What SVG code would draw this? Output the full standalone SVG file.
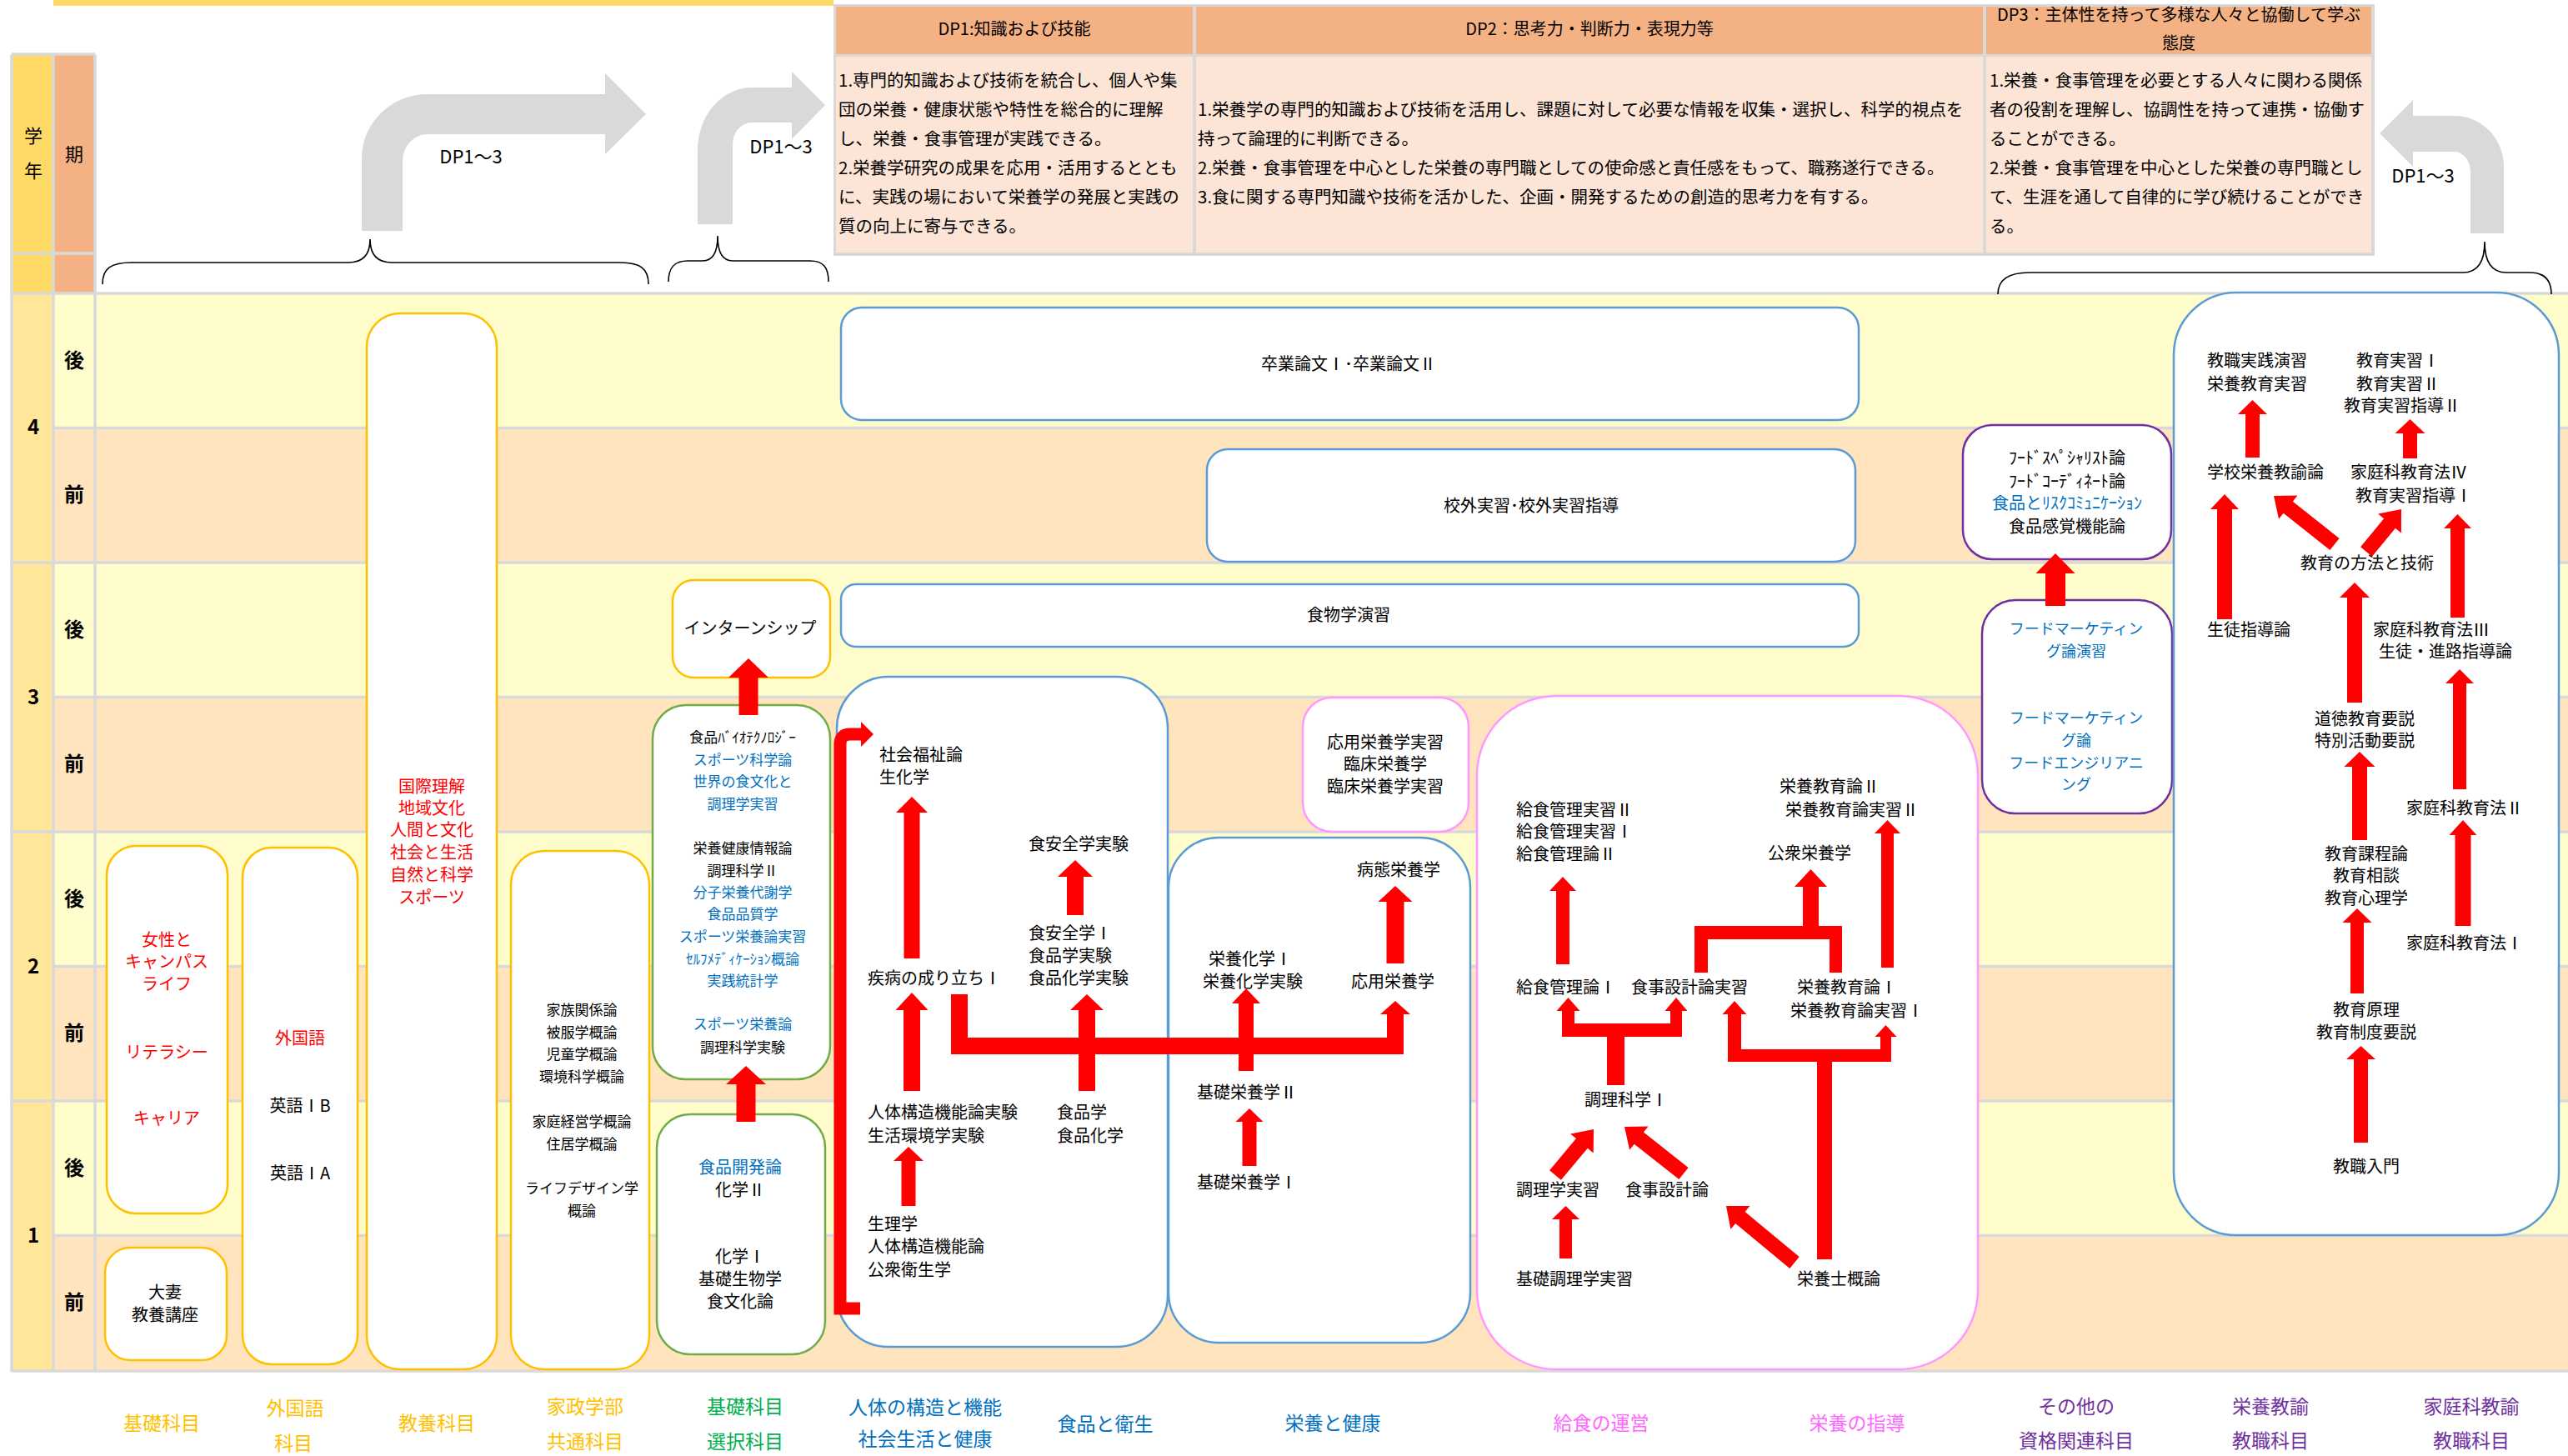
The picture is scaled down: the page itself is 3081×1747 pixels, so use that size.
<svg xmlns="http://www.w3.org/2000/svg" width="3081" height="1747" viewBox="0 0 3081 1747">
<style>
text{font-family:'Noto Sans CJK JP','Noto Sans CJK SC','Liberation Sans',sans-serif;fill:#000;font-size:20px}
.c{text-anchor:middle}
.red{fill:#FF0000}
.blu{fill:#0070C0}
.n17{font-size:17px}
.n18{font-size:18px}
.dp{font-size:20.5px}
.b{font-weight:bold;font-size:24px}
.ar{fill:#FF0000}
.bx{fill:#fff;stroke-width:2.5}
.by{stroke:#FFC000}
.bg{stroke:#70AD47}
.bb{stroke:#5B9BD5}
.bp{stroke:#FF99FF}
.bv{stroke:#7030A0}
.gl{stroke:#D9D9D9;stroke-width:3.5;fill:none}
.garr{fill:#D9D9D9}
.brace{fill:none;stroke:#000;stroke-width:1.6}
.lbl{font-size:23px;text-anchor:middle}
.ly{fill:#FFC000}.lg{fill:#00B050}.lb{fill:#0070C0}.lp{fill:#FF66FF}.lv{fill:#7030A0}
.yr{fill:#FFFDCB}.pr{fill:#FFE4BE}
</style>
<rect x="0" y="0" width="3081" height="1747" fill="#fff"/>

<!-- table background -->
<g id="table">
<rect x="64" y="0" width="936" height="7" fill="#FFD966"/>
<rect x="14" y="65" width="50" height="287" fill="#FFD966"/>
<rect x="64" y="65" width="50" height="287" fill="#F4B183"/>
<rect x="64" y="352" width="3017" height="161.5" class="yr"/>
<rect x="64" y="513.5" width="3017" height="161.5" class="pr"/>
<rect x="64" y="675" width="3017" height="161.5" class="yr"/>
<rect x="64" y="836.5" width="3017" height="161.5" class="pr"/>
<rect x="64" y="998" width="3017" height="161.5" class="yr"/>
<rect x="64" y="1159.5" width="3017" height="161.5" class="pr"/>
<rect x="64" y="1321" width="3017" height="161.5" class="yr"/>
<rect x="64" y="1482.5" width="3017" height="161.5" class="pr"/>
<rect x="14" y="352" width="50" height="1292" fill="#FFE699"/>
<path class="gl" d="M14 65H114M14 304H114M14 352H3081M64 513.5H3081M14 675H3081M64 836.5H3081M14 998H3081M64 1159.5H3081M14 1321H3081M64 1482.5H3081M14 1645H3081M14 65V1646M64 65V1646M114 65V1646"/>
<text x="40" y="171" class="c" style="font-size:22px">学</text>
<text x="40" y="213" class="c" style="font-size:22px">年</text>
<text x="89" y="193" class="c" style="font-size:22px">期</text>
<text x="40" y="521" class="c b">4</text>
<text x="40" y="845" class="c b">3</text>
<text x="40" y="1168" class="c b">2</text>
<text x="40" y="1491" class="c b">1</text>
<text x="89" y="441" class="c b">後</text>
<text x="89" y="602" class="c b">前</text>
<text x="89" y="764" class="c b">後</text>
<text x="89" y="925" class="c b">前</text>
<text x="89" y="1087" class="c b">後</text>
<text x="89" y="1248" class="c b">前</text>
<text x="89" y="1410" class="c b">後</text>
<text x="89" y="1571" class="c b">前</text>
</g>

<!-- DP table -->
<g id="dp-table">
<rect x="1000" y="5" width="1849" height="302" fill="#D9D9D9"/>
<rect x="1003" y="8" width="428" height="57" fill="#F4B183"/>
<rect x="1435" y="8" width="944" height="57" fill="#F4B183"/>
<rect x="2383" y="8" width="462" height="57" fill="#F4B183"/>
<rect x="1003" y="68" width="428" height="235" fill="#FCE4D6"/>
<rect x="1435" y="68" width="944" height="235" fill="#FCE4D6"/>
<rect x="2383" y="68" width="462" height="235" fill="#FCE4D6"/>
<text x="1217" y="42" class="c">DP1:知識および技能</text>
<text x="1907" y="42" class="c">DP2：思考力・判断力・表現力等</text>
<text x="2614" y="25" class="c">DP3：主体性を持って多様な人々と協働して学ぶ</text>
<text x="2614" y="59" class="c">態度</text>
<g class="dp">
<text x="1006" y="104" class="dp">1.専門的知識および技術を統合し、個人や集</text>
<text x="1006" y="139" class="dp">団の栄養・健康状態や特性を総合的に理解</text>
<text x="1006" y="174" class="dp">し、栄養・食事管理が実践できる。</text>
<text x="1006" y="209" class="dp">2.栄養学研究の成果を応用・活用するととも</text>
<text x="1006" y="244" class="dp">に、実践の場において栄養学の発展と実践の</text>
<text x="1006" y="279" class="dp">質の向上に寄与できる。</text>
<text x="1437" y="139" class="dp">1.栄養学の専門的知識および技術を活用し、課題に対して必要な情報を収集・選択し、科学的視点を</text>
<text x="1437" y="174" class="dp">持って論理的に判断できる。</text>
<text x="1437" y="209" class="dp">2.栄養・食事管理を中心とした栄養の専門職としての使命感と責任感をもって、職務遂行できる。</text>
<text x="1437" y="244" class="dp">3.食に関する専門知識や技術を活かした、企画・開発するための創造的思考力を有する。</text>
<text x="2387" y="104" class="dp">1.栄養・食事管理を必要とする人々に関わる関係</text>
<text x="2387" y="139" class="dp">者の役割を理解し、協調性を持って連携・協働す</text>
<text x="2387" y="174" class="dp">ることができる。</text>
<text x="2387" y="209" class="dp">2.栄養・食事管理を中心とした栄養の専門職とし</text>
<text x="2387" y="244" class="dp">て、生涯を通して自律的に学び続けることができ</text>
<text x="2387" y="279" class="dp">る。</text>
</g>
</g>

<!-- DP arrows and braces -->
<g id="dp-arrows">
<path class="garr" d="M434 277V190A79 77 0 0 1 513 113H726V88L775 137L726 185V161H513A30 32 0 0 0 483 193V277Z"/>
<path class="garr" d="M837 269V180A65 75 0 0 1 902 105H950V86L990 126L950 167V147H902A23 26 0 0 0 879 173V269Z"/>
<path class="garr" d="M3004 280V200A59 61 0 0 0 2945 139H2895V120L2855 160L2895 200V182H2945A19 25 0 0 1 2964 207V280Z"/>
<text x="565" y="196" class="c" style="font-size:22px">DP1～3</text>
<text x="937" y="184" class="c" style="font-size:22px">DP1～3</text>
<text x="2907" y="219" class="c" style="font-size:22px">DP1～3</text>
<path class="brace" d="M123 341C123 322 133 315 158 315H418C436 315 444 305 444 287C444 305 452 315 470 315H743C768 315 778 322 778 341"/>
<path class="brace" d="M802 338C802 320 810 313 825 313H843C855 313 861 302 861 283C861 302 867 313 879 313H972C987 313 994 320 994 338"/>
<path class="brace" d="M2397 353C2397 335 2410 327 2435 327H2955C2972 327 2981 315 2981 290C2981 315 2990 327 3007 327H3035C3052 327 3061 335 3061 353"/>
</g>

<!-- left nodes -->
<g id="kyoyo">
<rect x="440" y="376" width="156" height="1267" rx="40" class="bx by"/>
<text x="518" y="951" class="c red">国際理解</text>
<text x="518" y="977" class="c red">地域文化</text>
<text x="518" y="1003" class="c red">人間と文化</text>
<text x="518" y="1030" class="c red">社会と生活</text>
<text x="518" y="1057" class="c red">自然と科学</text>
<text x="518" y="1084" class="c red">スポーツ</text>
</g>
<g id="kiso1">
<rect x="128" y="1015" width="145" height="441" rx="35" class="bx by"/>
<text x="200" y="1135" class="c red">女性と</text>
<text x="200" y="1161" class="c red">キャンパス</text>
<text x="200" y="1188" class="c red">ライフ</text>
<text x="200" y="1270" class="c red">リテラシー</text>
<text x="200" y="1349" class="c red">キャリア</text>
</g>
<g id="otsuma">
<rect x="126" y="1497" width="146" height="135" rx="30" class="bx by"/>
<text x="198" y="1558" class="c">大妻</text>
<text x="198" y="1585" class="c">教養講座</text>
</g>
<g id="gaikokugo">
<rect x="291" y="1017" width="138" height="620" rx="35" class="bx by"/>
<text x="360" y="1253" class="c red">外国語</text>
<text x="360" y="1334" class="c">英語ⅠB</text>
<text x="360" y="1415" class="c">英語ⅠA</text>
</g>
<g id="kasei">
<rect x="613" y="1021" width="166" height="622" rx="40" class="bx by"/>
<text x="698" y="1218" class="c n17">家族関係論</text>
<text x="698" y="1245" class="c n17">被服学概論</text>
<text x="698" y="1271" class="c n17">児童学概論</text>
<text x="698" y="1298" class="c n17">環境科学概論</text>
<text x="698" y="1352" class="c n17">家庭経営学概論</text>
<text x="698" y="1379" class="c n17">住居学概論</text>
<text x="698" y="1432" class="c n17">ライフデザイン学</text>
<text x="698" y="1459" class="c n17">概論</text>
</g>
<g id="sentaku-upper">
<rect x="783" y="846" width="213" height="449" rx="40" class="bx bg"/>
<text x="891" y="891" class="c n17">食品ﾊﾞｲｵﾃｸﾉﾛｼﾞｰ</text>
<text x="891" y="918" class="c n17 blu">スポーツ科学論</text>
<text x="891" y="944" class="c n17 blu">世界の食文化と</text>
<text x="891" y="971" class="c n17 blu">調理学実習</text>
<text x="891" y="1024" class="c n17">栄養健康情報論</text>
<text x="891" y="1051" class="c n17">調理科学Ⅱ</text>
<text x="891" y="1077" class="c n17 blu">分子栄養代謝学</text>
<text x="891" y="1103" class="c n17 blu">食品品質学</text>
<text x="891" y="1130" class="c n17 blu">スポーツ栄養論実習</text>
<text x="891" y="1157" class="c n17 blu">ｾﾙﾌﾒﾃﾞｨｹｰｼｮﾝ概論</text>
<text x="891" y="1183" class="c n17 blu">実践統計学</text>
<text x="891" y="1235" class="c n17 blu">スポーツ栄養論</text>
<text x="891" y="1263" class="c n17">調理科学実験</text>
</g>
<g id="sentaku-lower">
<rect x="788" y="1337" width="202" height="288" rx="40" class="bx bg"/>
<text x="888" y="1408" class="c blu">食品開発論</text>
<text x="888" y="1435" class="c">化学Ⅱ</text>
<text x="888" y="1515" class="c">化学Ⅰ</text>
<text x="888" y="1542" class="c">基礎生物学</text>
<text x="888" y="1569" class="c">食文化論</text>
</g>
<g id="internship">
<rect x="807" y="696" width="189" height="117" rx="25" class="bx by"/>
<text x="900" y="761" class="c">インターンシップ</text>
</g>
<g id="sotsuron">
<rect x="1009" y="369" width="1221" height="135" rx="25" class="bx bb"/>
<text x="1618" y="444" class="c">卒業論文Ⅰ･卒業論文Ⅱ</text>
</g>
<g id="kougai">
<rect x="1448" y="539" width="778" height="135" rx="25" class="bx bb"/>
<text x="1837" y="614" class="c">校外実習･校外実習指導</text>
</g>
<g id="shokumotsu">
<rect x="1009" y="701" width="1221" height="75" rx="18" class="bx bb"/>
<text x="1618" y="745" class="c">食物学演習</text>
</g>
<g id="jintai">
<rect x="1004" y="812" width="397" height="804" rx="62" class="bx bb"/>
<text x="1055" y="913">社会福祉論</text>
<text x="1055" y="940">生化学</text>
<text x="1041" y="1181">疾病の成り立ちⅠ</text>
<text x="1041" y="1342">人体構造機能論実験</text>
<text x="1041" y="1370">生活環境学実験</text>
<text x="1041" y="1476">生理学</text>
<text x="1041" y="1503">人体構造機能論</text>
<text x="1041" y="1531">公衆衛生学</text>
<text x="1234" y="1020">食安全学実験</text>
<text x="1234" y="1127">食安全学Ⅰ</text>
<text x="1234" y="1154">食品学実験</text>
<text x="1234" y="1181">食品化学実験</text>
<text x="1268" y="1342">食品学</text>
<text x="1268" y="1370">食品化学</text>
</g>
<g id="eiyou">
<rect x="1402" y="1005" width="362" height="606" rx="60" class="bx bb"/>
<text x="1628" y="1051">病態栄養学</text>
<text x="1450" y="1158">栄養化学Ⅰ</text>
<text x="1443" y="1185">栄養化学実験</text>
<text x="1621" y="1185">応用栄養学</text>
<text x="1436" y="1318">基礎栄養学Ⅱ</text>
<text x="1436" y="1426">基礎栄養学Ⅰ</text>
</g>
<g id="ouyou">
<rect x="1563" y="837" width="199" height="161" rx="35" class="bx bp"/>
<text x="1662" y="898" class="c">応用栄養学実習</text>
<text x="1662" y="924" class="c">臨床栄養学</text>
<text x="1662" y="951" class="c">臨床栄養学実習</text>
</g>
<g id="kyushoku">
<rect x="1772" y="835" width="601" height="808" rx="95" class="bx bp"/>
<text x="1819" y="979">給食管理実習Ⅱ</text>
<text x="1819" y="1005">給食管理実習Ⅰ</text>
<text x="1819" y="1032">給食管理論Ⅱ</text>
<text x="2135" y="951">栄養教育論Ⅱ</text>
<text x="2142" y="979">栄養教育論実習Ⅱ</text>
<text x="2121" y="1031">公衆栄養学</text>
<text x="1819" y="1192">給食管理論Ⅰ</text>
<text x="1957" y="1192">食事設計論実習</text>
<text x="2156" y="1192">栄養教育論Ⅰ</text>
<text x="2148" y="1220">栄養教育論実習Ⅰ</text>
<text x="1901" y="1327">調理科学Ⅰ</text>
<text x="1819" y="1435">調理学実習</text>
<text x="1950" y="1435">食事設計論</text>
<text x="1819" y="1542">基礎調理学実習</text>
<text x="2156" y="1542">栄養士概論</text>
</g>
<g id="shikaku-upper">
<rect x="2355" y="510" width="250" height="161" rx="35" class="bx bv"/>
<text x="2480" y="557" class="c">ﾌｰﾄﾞｽﾍﾟｼｬﾘｽﾄ論</text>
<text x="2480" y="585" class="c">ﾌｰﾄﾞｺｰﾃﾞｨﾈｰﾄ論</text>
<text x="2480" y="611" class="c blu">食品とﾘｽｸｺﾐｭﾆｹｰｼｮﾝ</text>
<text x="2480" y="639" class="c">食品感覚機能論</text>
</g>
<g id="shikaku-lower">
<rect x="2378" y="720" width="228" height="256" rx="40" class="bx bv"/>
<text x="2491" y="761" class="c n18 blu">フードマーケティン</text>
<text x="2491" y="788" class="c n18 blu">グ論演習</text>
<text x="2491" y="868" class="c n18 blu">フードマーケティン</text>
<text x="2491" y="895" class="c n18 blu">グ論</text>
<text x="2491" y="922" class="c n18 blu">フードエンジリアニ</text>
<text x="2491" y="948" class="c n18 blu">ング</text>
</g>
<g id="kyoshoku">
<rect x="2608" y="351" width="462" height="1131" rx="75" class="bx bb"/>
<text x="2648" y="440">教職実践演習</text>
<text x="2648" y="468">栄養教育実習</text>
<text x="2827" y="440">教育実習Ⅰ</text>
<text x="2827" y="468">教育実習Ⅱ</text>
<text x="2812" y="494">教育実習指導Ⅱ</text>
<text x="2648" y="574">学校栄養教諭論</text>
<text x="2820" y="574">家庭科教育法Ⅳ</text>
<text x="2826" y="602">教育実習指導Ⅰ</text>
<text x="2760" y="683">教育の方法と技術</text>
<text x="2648" y="763">生徒指導論</text>
<text x="2847" y="763">家庭科教育法Ⅲ</text>
<text x="2854" y="789">生徒・進路指導論</text>
<text x="2777" y="870">道徳教育要説</text>
<text x="2777" y="896">特別活動要説</text>
<text x="2887" y="977">家庭科教育法Ⅱ</text>
<text x="2839" y="1032" class="c">教育課程論</text>
<text x="2839" y="1058" class="c">教育相談</text>
<text x="2839" y="1085" class="c">教育心理学</text>
<text x="2887" y="1139">家庭科教育法Ⅰ</text>
<text x="2839" y="1219" class="c">教育原理</text>
<text x="2839" y="1246" class="c">教育制度要説</text>
<text x="2839" y="1407" class="c">教職入門</text>
</g>

<!-- connectors -->
<g id="connectors">
<polygon class="ar" points="883.5,1346 883.5,1301 871,1301 895,1279 919,1301 906.5,1301 906.5,1346"/>
<polygon class="ar" points="886.5,858 886.5,813 874,813 898,790 922,813 909.5,813 909.5,858"/>
<path d="M1032 1570H1008V893Q1008 881 1020 881H1034" fill="none" stroke="#FF0000" stroke-width="15"/>
<polygon class="ar" points="1033,866 1048,881 1033,896"/>
<polygon class="ar" points="1084.5,1150 1084.5,975 1075,975 1094,956 1113,975 1103.5,975 1103.5,1150"/>
<polygon class="ar" points="1084,1309 1084,1212 1074.5,1212 1094,1191 1113.5,1212 1104,1212 1104,1309"/>
<polygon class="ar" points="1081.5,1447 1081.5,1393 1072,1393 1090,1376 1108,1393 1098.5,1393 1098.5,1447"/>
<polygon class="ar" points="1280,1098 1280,1052 1269,1052 1290,1032 1311,1052 1300,1052 1300,1098"/>
<rect class="ar" x="1141" y="1245" width="543" height="20"/>
<rect class="ar" x="1141" y="1193" width="20" height="72"/>
<polygon class="ar" points="1294,1309 1294,1212 1284,1212 1304,1193 1324,1212 1314,1212 1314,1309"/>
<polygon class="ar" points="1486,1285 1486,1204 1478,1204 1495,1186 1512,1204 1504,1204 1504,1285"/>
<polygon class="ar" points="1664,1265 1664,1217 1656,1217 1674,1201 1692,1217 1684,1217 1684,1265"/>
<polygon class="ar" points="1490.5,1399 1490.5,1346 1482.5,1346 1499,1330 1515.5,1346 1507.5,1346 1507.5,1399"/>
<polygon class="ar" points="1663.5,1156 1663.5,1082 1653.5,1082 1674,1063 1694.5,1082 1684.5,1082 1684.5,1156"/>
<polygon class="ar" points="1867,1157 1867,1069 1859,1069 1875,1052 1891,1069 1883,1069 1883,1157"/>
<rect class="ar" x="1928" y="1228" width="21" height="74"/>
<rect class="ar" x="1874" y="1228" width="144" height="16"/>
<polygon class="ar" points="1874,1244 1874,1213 1867.5,1213 1881.5,1197 1895.5,1213 1889,1213 1889,1244"/>
<polygon class="ar" points="2004,1244 2004,1213 1997.5,1213 2011,1197 2024.5,1213 2018,1213 2018,1244"/>
<rect class="ar" x="2180" y="1259" width="18" height="252"/>
<rect class="ar" x="2073" y="1259" width="196" height="15"/>
<polygon class="ar" points="2073,1274 2073,1217 2066.5,1217 2081,1201 2095.5,1217 2089,1217 2089,1274"/>
<polygon class="ar" points="2256,1274 2256,1244 2249.5,1244 2262.5,1230 2275.5,1244 2269,1244 2269,1274"/>
<rect class="ar" x="2033" y="1111" width="16" height="56"/>
<rect class="ar" x="2033" y="1111" width="177" height="16"/>
<rect class="ar" x="2195" y="1111" width="15" height="56"/>
<polygon class="ar" points="2163,1112 2163,1064 2153,1064 2172.5,1043 2192,1064 2182,1064 2182,1112"/>
<polygon class="ar" points="2257,1161 2257,1000 2249,1000 2264.5,984 2280,1000 2272,1000 2272,1161"/>
<polygon class="ar" points="1871,1510 1871,1463 1862,1463 1878.5,1447 1895,1463 1886,1463 1886,1510"/>
<polygon class="ar" points="1872.9,1415.8 1904.8,1377.7 1911.7,1383.4 1912,1355 1884.1,1360.4 1891,1366.1 1859.1,1404.2"/>
<polygon class="ar" points="2025.6,1400.9 1971.9,1358.5 1977.5,1351.5 1949,1352 1955.1,1379.7 1960.7,1372.7 2014.4,1415.1"/>
<polygon class="ar" points="2158.7,1508.1 2093.6,1454.1 2099.4,1447.1 2071,1447 2076.4,1474.9 2082.2,1467.9 2147.3,1521.9"/>
<polygon class="ar" points="2454,727 2454,688 2442.5,688 2466,664 2489.5,688 2478,688 2478,727"/>
<polygon class="ar" points="2694,549 2694,497 2685,497 2702.5,480 2720,497 2711,497 2711,549"/>
<polygon class="ar" points="2883,550 2883,520 2873.5,520 2891.5,503 2909.5,520 2900,520 2900,550"/>
<polygon class="ar" points="2660,743 2660,611 2652,611 2669,593 2686,611 2678,611 2678,743"/>
<polygon class="ar" points="2806.6,646 2750.8,601.7 2756.4,594.6 2728,595 2734,622.8 2739.6,615.7 2795.4,660"/>
<polygon class="ar" points="2845.9,667.7 2873.9,633.7 2880.9,639.4 2881,611 2853.1,616.6 2860.1,622.3 2832.1,656.3"/>
<polygon class="ar" points="2940,741 2940,634 2932,634 2948.5,617 2965,634 2957,634 2957,741"/>
<polygon class="ar" points="2816,843 2816,717 2807,717 2825,699 2843,717 2834,717 2834,843"/>
<polygon class="ar" points="2943,947 2943,820 2934,820 2951,803 2968,820 2959,820 2959,947"/>
<polygon class="ar" points="2822,1008 2822,920 2812.5,920 2831,902 2849.5,920 2840,920 2840,1008"/>
<polygon class="ar" points="2945.5,1111 2945.5,1002 2938.5,1002 2955,984 2971.5,1002 2964.5,1002 2964.5,1111"/>
<polygon class="ar" points="2820,1192 2820,1107 2810.5,1107 2828,1090 2845.5,1107 2836,1107 2836,1192"/>
<polygon class="ar" points="2824,1371 2824,1271 2815,1271 2832.5,1255 2850,1271 2841,1271 2841,1371"/>
</g>

<!-- column labels -->
<g id="labels">
<text x="194" y="1716" class="lbl ly">基礎科目</text>
<text x="354" y="1698" class="lbl ly">外国語</text>
<text x="352" y="1740" class="lbl ly">科目</text>
<text x="524" y="1716" class="lbl ly">教養科目</text>
<text x="702" y="1696" class="lbl ly">家政学部</text>
<text x="702" y="1738" class="lbl ly">共通科目</text>
<text x="894" y="1696" class="lbl lg">基礎科目</text>
<text x="894" y="1738" class="lbl lg">選択科目</text>
<text x="1110" y="1697" class="lbl lb">人体の構造と機能</text>
<text x="1110" y="1735" class="lbl lb">社会生活と健康</text>
<text x="1326" y="1717" class="lbl lb">食品と衛生</text>
<text x="1599" y="1716" class="lbl lb">栄養と健康</text>
<text x="1921" y="1716" class="lbl lp">給食の運営</text>
<text x="2228" y="1716" class="lbl lp">栄養の指導</text>
<text x="2491" y="1696" class="lbl lv">その他の</text>
<text x="2491" y="1737" class="lbl lv">資格関連科目</text>
<text x="2724" y="1696" class="lbl lv">栄養教諭</text>
<text x="2724" y="1737" class="lbl lv">教職科目</text>
<text x="2965" y="1696" class="lbl lv">家庭科教諭</text>
<text x="2965" y="1737" class="lbl lv">教職科目</text>
</g>
</svg>
